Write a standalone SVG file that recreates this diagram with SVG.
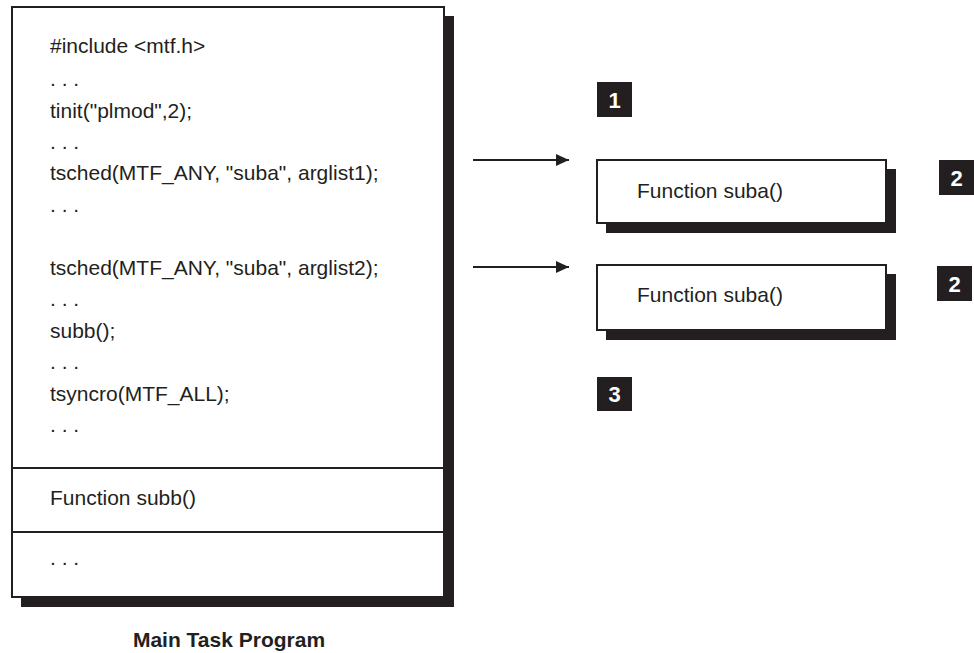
<svg xmlns="http://www.w3.org/2000/svg" width="974" height="653" viewBox="0 0 974 653">
<defs>
<style>
.t{font-family:"Liberation Sans",Arial,sans-serif;font-size:21px;fill:#231f20}
.b{font-family:"Liberation Sans",Arial,sans-serif;font-size:21px;font-weight:bold;fill:#231f20}
.n{font-family:"Liberation Sans",Arial,sans-serif;font-size:22px;font-weight:bold;fill:#ffffff;text-anchor:middle}
.box{fill:#ffffff;stroke:#231f20;stroke-width:2}
.sh{fill:#231f20}
.badge{fill:#231f20}
.ln{stroke:#231f20;stroke-width:2;fill:none}
</style>
<marker id="ah" markerWidth="13" markerHeight="12" refX="13" refY="6" orient="auto" markerUnits="userSpaceOnUse">
<path d="M0,0 L13,6 L0,12 Z" fill="#231f20"/>
</marker>
</defs>
<rect width="974" height="653" fill="#ffffff"/>

<g id="main-task">
<rect class="sh" x="21" y="16" width="433" height="591"/>
<rect class="box" x="12" y="7" width="432" height="590"/>
<line class="ln" x1="12" y1="468" x2="444" y2="468"/>
<line class="ln" x1="12" y1="532" x2="444" y2="532"/>
<text class="t" x="50" y="53">#include &lt;mtf.h&gt;</text>
<text class="t" x="50" y="86">. . .</text>
<text class="t" x="50" y="118">tinit("plmod",2);</text>
<text class="t" x="50" y="149">. . .</text>
<text class="t" x="50" y="180">tsched(MTF_ANY, "suba", arglist1);</text>
<text class="t" x="50" y="212">. . .</text>
<text class="t" x="50" y="275">tsched(MTF_ANY, "suba", arglist2);</text>
<text class="t" x="50" y="306">. . .</text>
<text class="t" x="50" y="338">subb();</text>
<text class="t" x="50" y="369">. . .</text>
<text class="t" x="50" y="401">tsyncro(MTF_ALL);</text>
<text class="t" x="50" y="432">. . .</text>
<text class="t" x="50" y="505">Function subb()</text>
<text class="t" x="50" y="565">. . .</text>
</g>

<g id="title">
<text class="b" x="229" y="647" text-anchor="middle">Main Task Program</text>
</g>

<g id="suba1">
<rect class="sh" x="606" y="169" width="290" height="64"/>
<rect class="box" x="597" y="160" width="289" height="63"/>
<text class="t" x="637" y="198">Function suba()</text>
</g>

<g id="suba2">
<rect class="sh" x="606" y="274" width="290" height="66"/>
<rect class="box" x="597" y="265" width="289" height="65"/>
<text class="t" x="637" y="302">Function suba()</text>
</g>

<g id="badge1">
<rect class="badge" x="597" y="82" width="35" height="35"/>
<text class="n" x="614.5" y="107.5">1</text>
</g>
<g id="badge2a">
<rect class="badge" x="939" y="160" width="35" height="35"/>
<text class="n" x="956.5" y="185.5">2</text>
</g>
<g id="badge2b">
<rect class="badge" x="937" y="266" width="35" height="35"/>
<text class="n" x="954.5" y="291.5">2</text>
</g>
<g id="badge3">
<rect class="badge" x="597" y="377" width="35" height="34"/>
<text class="n" x="614.5" y="402">3</text>
</g>

<g id="connectors">
<line class="ln" x1="473" y1="160" x2="569" y2="160" marker-end="url(#ah)"/>
<line class="ln" x1="473" y1="267" x2="569" y2="267" marker-end="url(#ah)"/>
</g>
</svg>
